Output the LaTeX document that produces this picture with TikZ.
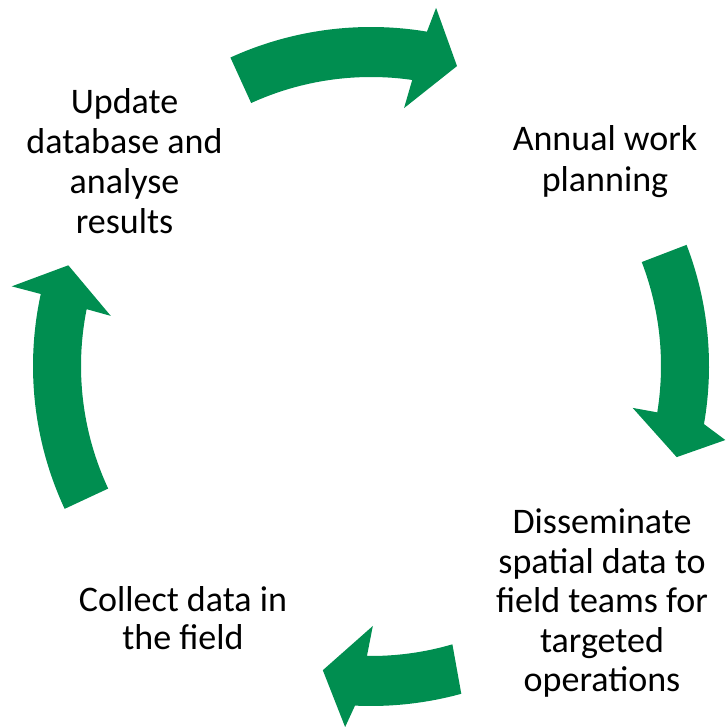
\documentclass[tikz,border=0pt]{standalone}
\usepackage{fontspec}
\setmainfont{Carlito}
\definecolor{cyclegreen}{RGB}{0,142,80}
\begin{document}
\begin{tikzpicture}[x=1pt,y=1pt,
  cyclearrow/.style={fill=cyclegreen,draw=none},
  steplabel/.style={align=center,inner sep=0pt},
  lines/.style={font=\fontsize{36}{#1}\selectfont}]
\useasboundingbox (0,0) rectangle (725,727);
% the four curved arrows lie on one ring around the cycle centre
\begin{scope}[shift={(371,361)}]
  % top arrow
  \path[cyclearrow] (114.5:339) arc[start angle=114.5,end angle=80.5,radius=339]
    -- (79.7:364) -- (74:312) -- (82.7:260) -- (81.8:289)
    arc[start angle=81.8,end angle=114.5,radius=289] -- cycle;
  % right arrow
  \path[cyclearrow] (21:338) arc[start angle=21,end angle=-9.9,radius=338]
    -- (-11.8:362) -- (-16.6:319) -- (-9.1:265) -- (-9.2:290)
    arc[start angle=-9.2,end angle=21,radius=290] -- cycle;
  % bottom arrow
  \path[cyclearrow] (-74.6:340) arc[start angle=-74.6,end angle=-92.7,radius=340]
    -- (-94.1:362) -- (-99:308) -- (-89.6:260) -- (-90.8:290)
    arc[start angle=-90.8,end angle=-73.7,radius=290] -- cycle;
  % left arrow
  \path[cyclearrow] (205:338) arc[start angle=205,end angle=167.7,radius=338]
    -- (167.5:368) -- (161.6:319) -- (169.1:265) -- (168.7:290)
    arc[start angle=168.7,end angle=205,radius=290] -- cycle;
\end{scope}
% step labels
\node[steplabel,lines=40] (update) at (124.5,727-160.8) {Update\\database and\\analyse\\results};
\node[steplabel,lines=41] (plan) at (605,727-162) {Annual work\\planning};
\node[steplabel,lines=39.5] (share) at (602,727-603.5) {Disseminate\\spatial data to\\field teams for\\targeted\\operations};
\node[steplabel,lines=38.5] (collect) at (183,727-618) {Collect data in\\the field};
\end{tikzpicture}
\end{document}
